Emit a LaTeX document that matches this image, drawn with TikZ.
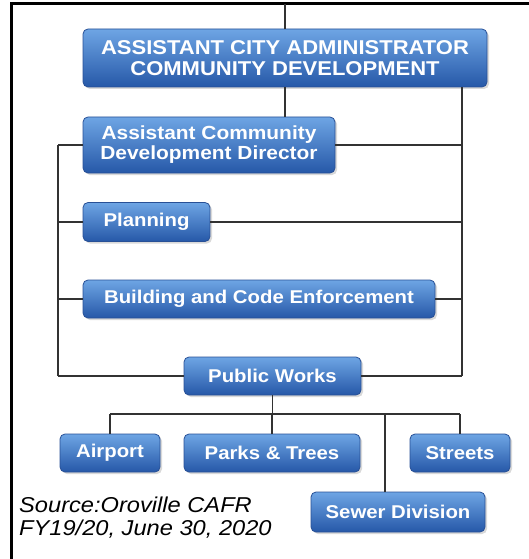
\documentclass[tikz,border=0pt]{standalone}
\usepackage{fontspec}
\setmainfont[FakeStretch=1.1]{Liberation Sans}
\usepackage{tikz}
\usetikzlibrary{shadows,calc}
\definecolor{boxtop}{RGB}{110,165,228}
\definecolor{boxbot}{RGB}{38,88,168}
\definecolor{boxline}{RGB}{40,80,150}
\definecolor{wire}{RGB}{50,50,50}

\begin{document}
\begin{tikzpicture}[x=1pt,y=-1pt,
    unit/.style={rectangle,rounded corners=5pt,draw=boxline,line width=0.8pt,
      top color=boxtop,bottom color=boxbot,text=white,align=center,
      font=\fontsize{18.5}{19}\selectfont\bfseries,inner sep=0pt,
      drop shadow={opacity=0.3,shadow xshift=2pt,shadow yshift=-2pt}},
    wire/.style={draw=wire,line width=1.8pt}]
  \useasboundingbox (0,0) rectangle (529,559);
  \draw[line width=3pt] (11,559) -- (11,4) -- (529,4);

  \node[unit,minimum width=404,minimum height=58,
    font=\fontsize{20}{20.5}\selectfont\bfseries] (cad) at (285,58)
    {ASSISTANT CITY ADMINISTRATOR\\COMMUNITY DEVELOPMENT};
  \node[unit,minimum width=252,minimum height=56,
    font=\fontsize{19}{20}\selectfont\bfseries] (acdd) at (209,145)
    {Assistant Community\\Development Director};
  \node[unit,minimum width=127,minimum height=39] (plan) at (146.5,222) {Planning};
  \node[unit,minimum width=352,minimum height=38] (build) at (259,299)
    {Building and Code Enforcement};
  \node[unit,minimum width=177,minimum height=38] (pw) at (272.5,376) {Public Works};
  \node[unit,minimum width=100,minimum height=38] (air) at (110,453) {Airport};
  \node[unit,minimum width=176,minimum height=38] (parks) at (272,453) {Parks \& Trees};
  \node[unit,minimum width=100,minimum height=38] (streets) at (460,453) {Streets};
  \node[unit,minimum width=174,minimum height=40] (sewer) at (398,512) {Sewer Division};

  \node[anchor=north west,align=left,inner sep=0pt,
    font=\fontsize{21.5}{22.5}\selectfont\itshape] (src) at (19,497)
    {Source:Oroville CAFR\\FY19/20, June 30, 2020};

  \coordinate (top) at (285,4);
  \coordinate (ltop) at (58,145);
  \coordinate (lbot) at (58,376);
  \coordinate (rbot) at (462,376);
  \coordinate (bus) at (272,414);
  \coordinate (sw) at (385,414);

  \path[wire] (top) -- (cad.north)
    (cad.south) -- (cad.south |- acdd.north)
    (cad.south -| rbot) -- (rbot)
    (ltop) -- (lbot)
    (ltop) -- (acdd.west)
    (acdd.east) -- (acdd.east -| rbot)
    (plan.west -| ltop) -- (plan.west)
    (plan.east) -- (plan.east -| rbot)
    (build.west -| ltop) -- (build.west)
    (build.east) -- (build.east -| rbot)
    (lbot) -- (pw.west)
    (pw.east) -- (rbot)
    (pw.south) -- (pw.south |- bus)
    (air.north |- bus) -- (streets.north |- bus)
    (air.north |- bus) -- (air.north)
    (parks.north |- bus) -- (parks.north)
    (streets.north |- bus) -- (streets.north)
    (sw) -- (sw |- sewer.north);
\end{tikzpicture}
\end{document}
